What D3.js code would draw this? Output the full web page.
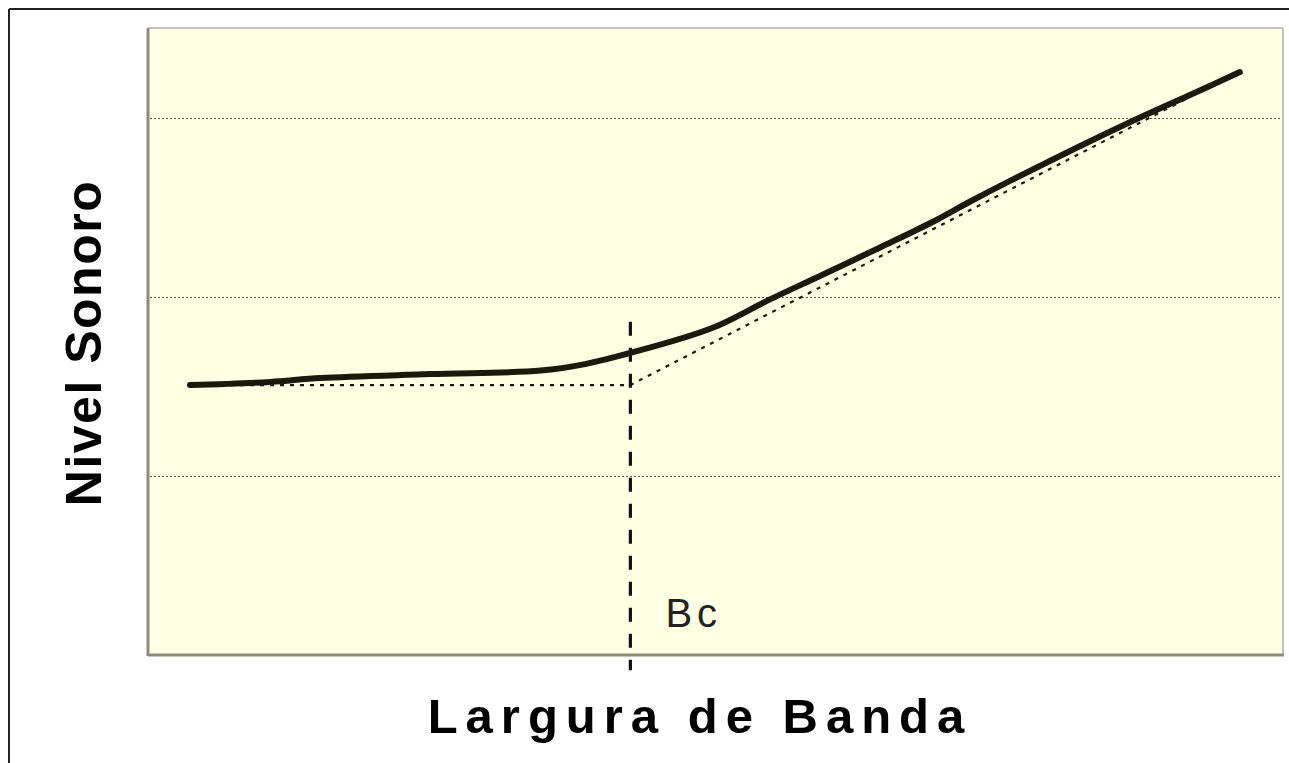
<!DOCTYPE html>
<html>
<head>
<meta charset="utf-8">
<script src="https://cdn.jsdelivr.net/npm/d3@7"></script>
<style>
  html, body { margin: 0; background: #fff; overflow: hidden; }
  svg { display: block; }
</style>
</head>
<body>
<div class="chart"></div>
<script>
const width = 1289;
const height = 763;
const plot = {left: 148, top: 28, right: 1283, bottom: 655};

// band width (arbitrary units) vs sound level
const bandX = [3.7, 10.75, 15.2, 24.85, 34.6, 38.5, 42.5, 49.7, 54.8, 59.2, 64.5, 68.9, 72.4, 75.9, 81.2, 87.4, 91.8, 96.2];
const levelY = [1.507, 1.524, 1.546, 1.568, 1.588, 1.624, 1.686, 1.825, 1.985, 2.116, 2.275, 2.41, 2.53, 2.645, 2.812, 3.0, 3.126, 3.254];

// asymptotes
const asymX = [3.7, 42.5, 91.8];
const asymY = [1.507, 1.507, 3.115];

const gridValues = [1, 2, 3];
const bcX = 42.5;
const bcRange = [-0.085, 1.86];

const xLabel = "Largura de Banda";
const yLabel = "Nivel Sonoro";
const bcLabel = "Bc";

const svg = d3.select('.chart')
  .append('svg')
  .attr('width', width)
  .attr('height', height);

let x = d3.scaleLinear().domain([0, 100]).range([plot.left, plot.right]);
let y = d3.scaleLinear().domain([0, 3.5]).range([plot.bottom, plot.top]);

// outer frame (right/bottom edges fall outside the picture)
svg.append('line')
  .attr('x1', 9).attr('x2', width)
  .attr('y1', 9).attr('y2', 9)
  .attr('stroke', '#222').attr('stroke-width', 2);
svg.append('line')
  .attr('x1', 9).attr('x2', 9)
  .attr('y1', 9).attr('y2', height)
  .attr('stroke', '#222').attr('stroke-width', 2);

// plot background
svg.append('rect')
  .attr('x', plot.left).attr('y', plot.top)
  .attr('width', plot.right - plot.left)
  .attr('height', plot.bottom - plot.top)
  .attr('fill', '#ffffe3');

// plot border: lighter top/right, darker left/bottom
svg.append('line')
  .attr('x1', plot.left).attr('x2', plot.right)
  .attr('y1', plot.top).attr('y2', plot.top)
  .attr('stroke', '#c4c4bc').attr('stroke-width', 2);
svg.append('line')
  .attr('x1', plot.right).attr('x2', plot.right)
  .attr('y1', plot.top).attr('y2', plot.bottom)
  .attr('stroke', '#c4c4bc').attr('stroke-width', 2);
svg.append('line')
  .attr('x1', plot.left).attr('x2', plot.left)
  .attr('y1', plot.top).attr('y2', plot.bottom + 1)
  .attr('stroke', '#8c8c7c').attr('stroke-width', 3);
svg.append('line')
  .attr('x1', plot.left).attr('x2', plot.right + 1)
  .attr('y1', plot.bottom).attr('y2', plot.bottom)
  .attr('stroke', '#8c8c7c').attr('stroke-width', 3);

// gridlines
svg.append('g')
  .selectAll('line')
  .data(gridValues)
  .join('line')
  .attr('x1', plot.left + 2).attr('x2', plot.right - 1)
  .attr('y1', d => Math.round(y(d)) + 0.5)
  .attr('y2', d => Math.round(y(d)) + 0.5)
  .attr('stroke', '#555')
  .attr('stroke-width', 1)
  .attr('stroke-dasharray', '2,2');

// asymptote lines (dotted)
const asym = asymX.map((v, i) => [v, asymY[i]]);
svg.append('path')
  .datum(asym)
  .attr('d', d3.line().x(d => x(d[0])).y(d => y(d[1])))
  .attr('fill', 'none')
  .attr('stroke', '#1a1a0a')
  .attr('stroke-width', 2.2)
  .attr('stroke-dasharray', '4,6');

// Bc marker
svg.append('line')
  .attr('x1', x(bcX)).attr('x2', x(bcX))
  .attr('y1', y(bcRange[1])).attr('y2', y(bcRange[0]))
  .attr('stroke', '#111')
  .attr('stroke-width', 3.2)
  .attr('stroke-dasharray', '14,12');

// main curve
const pts = bandX.map((v, i) => [v, levelY[i]]);
svg.append('path')
  .datum(pts)
  .attr('d', d3.line().x(d => x(d[0])).y(d => y(d[1])).curve(d3.curveCatmullRom.alpha(0.5)))
  .attr('fill', 'none')
  .attr('stroke', '#1a1a0a')
  .attr('stroke-width', 6)
  .attr('stroke-linecap', 'round')
  .attr('stroke-linejoin', 'round');

// labels
svg.append('text')
  .attr('x', x(bcX) + 35)
  .attr('y', 627)
  .attr('font-family', 'Liberation Sans, Arial, sans-serif')
  .attr('font-size', 40)
  .attr('letter-spacing', 5)
  .attr('fill', '#222')
  .text(bcLabel);

svg.append('text')
  .attr('x', 700)
  .attr('y', 733)
  .attr('text-anchor', 'middle')
  .attr('font-family', 'Liberation Sans, Arial, sans-serif')
  .attr('font-weight', 'bold')
  .attr('font-size', 49)
  .attr('letter-spacing', 8)
  .attr('fill', '#000')
  .text(xLabel);

svg.append('text')
  .attr('transform', 'translate(101,343) rotate(-90)')
  .attr('text-anchor', 'middle')
  .attr('font-family', 'Liberation Sans, Arial, sans-serif')
  .attr('font-weight', 'bold')
  .attr('font-size', 50)
  .attr('letter-spacing', 1.5)
  .attr('fill', '#000')
  .text(yLabel);
</script>
</body>
</html>
